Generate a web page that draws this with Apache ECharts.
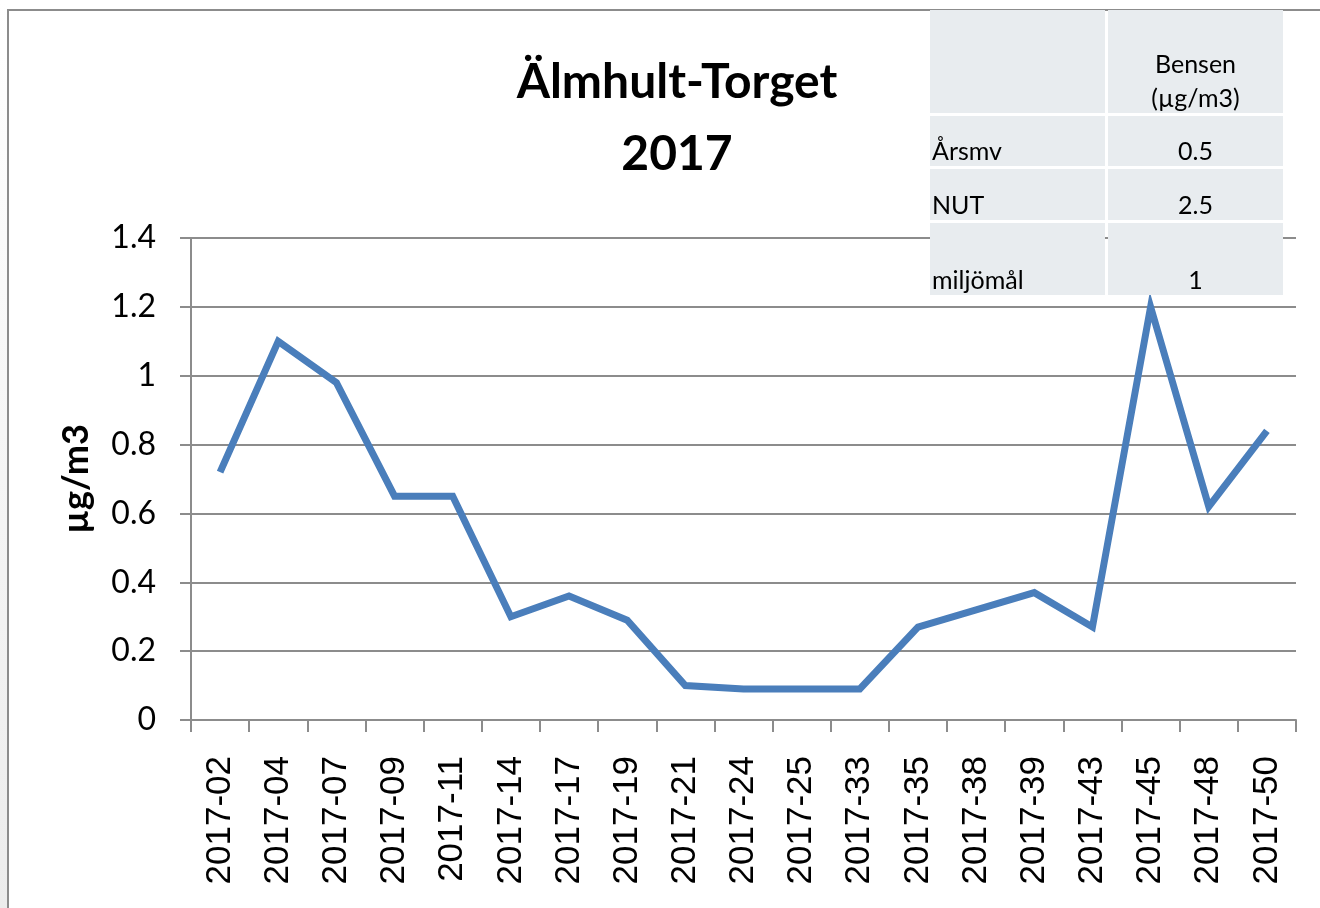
<!DOCTYPE html>
<html>
<head>
<meta charset="utf-8">
<title>Älmhult-Torget 2017</title>
<script src="https://cdn.jsdelivr.net/npm/echarts@6/dist/echarts.min.js"></script>
<style>
  html, body { margin: 0; padding: 0; background: #fff; }
  #chart { width: 1320px; height: 908px; }
</style>
</head>
<body>
<div id="chart"></div>
<script>
// veckor (kategorier)
const weeks = [
  "2017-02", "2017-04", "2017-07", "2017-09", "2017-11", "2017-14", "2017-17",
  "2017-19", "2017-21", "2017-24", "2017-25", "2017-33", "2017-35", "2017-38",
  "2017-39", "2017-43", "2017-45", "2017-48", "2017-50",
];
// bensen, µg/m3
const bensen = [
  0.72, 1.1, 0.98, 0.65, 0.65, 0.3, 0.36, 0.29, 0.1, 0.09, 0.09, 0.09, 0.27,
  0.32, 0.37, 0.27, 1.2, 0.62, 0.84,
];
// tabellen uppe till höger
const tableHeader = ["", "Bensen\n(µg/m3)"];
const tableRows = [
  ["Årsmv", "0.5"],
  ["NUT", "2.5"],
  ["miljömål", "1"],
];

const grey = "#8c8c8c";
const cellFill = "#e8ecef";

// tabell som grafik, ritas ovanpå diagrammet
const buildTable = () => {
  const colX = [930, 1108];
  const colW = [175, 175];
  const rowY = [10, 116, 169, 223];
  const rowH = [103, 50, 51, 72];
  const all = [tableHeader].concat(tableRows);
  const els = [];
  all.forEach((row, r) => {
    row.forEach((txt, c) => {
      els.push({
        type: "rect",
        z: 100,
        shape: { x: colX[c], y: rowY[r], width: colW[c], height: rowH[r] },
        style: { fill: cellFill },
      });
      if (txt) {
        els.push({
          type: "text",
          z: 101,
          x: c === 0 ? colX[c] + 2 : colX[c] + colW[c] / 2,
          y: rowY[r] + rowH[r] + 3,
          style: {
            text: txt,
            font: "25px Lato",
            fill: "#000",
            align: c === 0 ? "left" : "center",
            verticalAlign: "bottom",
            lineHeight: 34,
          },
        });
      }
    });
  });
  return els;
};

const chart = echarts.init(document.getElementById("chart"));
const option = {
  backgroundColor: "#fff",
  animation: false,
  title: {
    text: "Älmhult-Torget\n2017",
    left: 672,
    top: 42,
    textAlign: "center",
    textStyle: {
      fontFamily: "Lato",
      fontWeight: "bold",
      fontSize: 48,
      lineHeight: 72,
      color: "#000",
    },
  },
  grid: { left: 191, right: 24, top: 238, bottom: 188 },
  xAxis: {
    type: "category",
    data: weeks,
    boundaryGap: true,
    axisLine: { lineStyle: { color: grey, width: 2 } },
    axisTick: { show: true, length: 12, alignWithLabel: false, lineStyle: { color: grey, width: 2 } },
    axisLabel: {
      rotate: 90,
      margin: 36,
      interval: 0,
      fontFamily: "Liberation Sans",
      fontSize: 35,
      color: "#000",
    },
  },
  yAxis: {
    type: "value",
    min: 0,
    max: 1.4,
    interval: 0.2,
    name: "µg/m3",
    nameLocation: "middle",
    nameGap: 97,
    nameTextStyle: {
      fontFamily: "Lato",
      fontWeight: "bold",
      fontSize: 36,
      color: "#000",
    },
    axisLine: { show: true, lineStyle: { color: grey, width: 2 } },
    axisTick: { show: true, length: 11, lineStyle: { color: grey, width: 2 } },
    splitLine: { show: true, lineStyle: { color: grey, width: 2 } },
    axisLabel: {
      margin: 35,
      fontFamily: "Lato",
      fontSize: 32,
      color: "#000",
      formatter: (v) => String(+v.toFixed(1)),
    },
  },
  series: [
    {
      name: "Bensen",
      type: "line",
      data: bensen,
      symbol: "none",
      lineStyle: { color: "#4a7ebb", width: 7, join: "miter" },
    },
  ],
  graphic: [
    {
      type: "rect",
      z: -10,
      silent: true,
      shape: { x: 0, y: 0, width: 7, height: 908 },
      style: {
        fill: new echarts.graphic.LinearGradient(0, 0, 0, 1, [
          { offset: 0, color: "#ffffff" },
          { offset: 1, color: "#ececec" },
        ]),
      },
    },
    {
      type: "rect",
      z: -5,
      silent: true,
      shape: { x: 8, y: 10, width: 1400, height: 1000 },
      style: { fill: "none", stroke: grey, lineWidth: 2 },
    },
  ].concat(buildTable()),
};
chart.setOption(option);
</script>
</body>
</html>
